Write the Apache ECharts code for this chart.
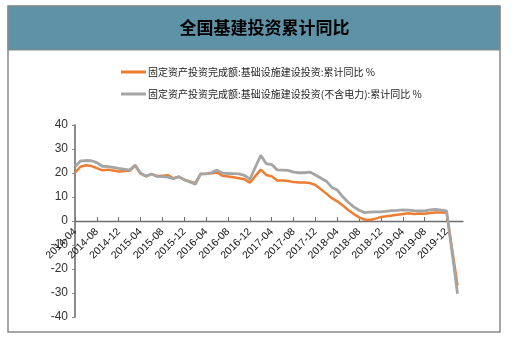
<!DOCTYPE html>
<html><head><meta charset="utf-8">
<script src="https://cdn.jsdelivr.net/npm/echarts@6/dist/echarts.min.js"></script>
<style>html,body{margin:0;padding:0;background:#fff}#c{width:529px;height:341px}</style>
</head><body><div id="c"></div>
<script>
const title = '全国基建投资累计同比';
const seriesNames = ['固定资产投资完成额:基础设施建设投资:累计同比 %', '固定资产投资完成额:基础设施建设投资(不含电力):累计同比 %'];
const dataMonths = [
 '2014-04','2014-05','2014-06','2014-07','2014-08','2014-09','2014-10','2014-11','2014-12',
 '2015-02','2015-03','2015-04','2015-05','2015-06','2015-07','2015-08','2015-09','2015-10','2015-11','2015-12',
 '2016-02','2016-03','2016-04','2016-05','2016-06','2016-07','2016-08','2016-09','2016-10','2016-11','2016-12',
 '2017-02','2017-03','2017-04','2017-05','2017-06','2017-07','2017-08','2017-09','2017-10','2017-11','2017-12',
 '2018-02','2018-03','2018-04','2018-05','2018-06','2018-07','2018-08','2018-09','2018-10','2018-11','2018-12',
 '2019-02','2019-03','2019-04','2019-05','2019-06','2019-07','2019-08','2019-09','2019-10','2019-11','2019-12',
 '2020-02'];
const infra = [
 20.2,22.6,23.2,22.9,22.0,21.1,21.4,21.0,20.6,
 20.9,23.1,19.7,18.6,19.6,18.7,18.9,19.1,17.8,18.5,17.2,
 15.8,19.6,19.7,19.9,20.2,18.8,18.5,18.2,17.8,17.4,16.0,
 21.4,19.2,18.6,16.9,16.9,16.7,16.2,16.0,16.0,15.8,15.0,
 11.4,9.5,8.2,6.5,4.6,2.9,1.5,0.6,0.4,1.0,1.7,
 2.3,2.6,2.9,3.2,2.9,3.1,3.0,3.3,3.5,3.5,3.4,
 -26.9];
const infraExPower = [
 22.6,25.0,25.2,25.1,24.3,22.8,22.7,22.3,21.9,
 21.2,23.3,20.0,18.7,19.5,18.6,18.5,18.3,17.6,18.4,17.2,
 15.3,19.6,19.6,20.2,21.2,19.9,19.8,19.7,19.6,19.0,17.4,
 27.4,23.9,23.5,21.3,21.2,21.1,20.4,20.1,20.1,20.4,19.2,
 16.6,14.0,12.9,10.1,7.8,5.9,4.5,3.5,3.7,3.8,3.8,
 4.3,4.4,4.6,4.5,4.3,4.2,4.2,4.6,4.8,4.5,4.2,
 -30.3];
const axisStart = '2014-04', axisEnd = '2020-03';
const yMin = -40, yMax = 40, yStep = 10;

// monthly category axis (January has no separate release)
const axisMonths = [];
{
  let [y, m] = axisStart.split('-').map(Number);
  const [ey, em] = axisEnd.split('-').map(Number);
  while (y < ey || (y === ey && m <= em)) {
    axisMonths.push(y + '-' + String(m).padStart(2, '0'));
    m++; if (m > 12) { m = 1; y++; }
  }
}
function align(vals) {
  const map = {};
  dataMonths.forEach((d, i) => map[d] = vals[i]);
  return axisMonths.map(d => (d in map ? map[d] : null));
}

const gridTop = 125, gridBottom = 24, H = 341;
const gridH = H - gridTop - gridBottom;
const zeroOffset = -gridH * (0 - yMin) / (yMax - yMin);

const chart = echarts.init(document.getElementById('c'), null, {renderer: 'canvas'});
chart.setOption({
  animation: false,
  backgroundColor: '#fff',
  graphic: [
    {type: 'rect', z: -10, shape: {x: 8, y: 6, width: 492, height: 326}, style: {fill: '#fff', stroke: '#8a8a8a', lineWidth: 1.5}},
    {type: 'rect', z: -9, shape: {x: 8, y: 6, width: 492, height: 44}, style: {fill: '#5e92a7', stroke: '#8a8a8a', lineWidth: 1}},
    {type: 'text', z: 10, left: 'center', top: 19, style: {text: title, font: 'bold 17px "Noto Sans CJK SC"', fill: '#000'}}
  ],
  legend: {
    orient: 'vertical', left: 116, top: 62, itemGap: 12,
    itemWidth: 25, itemHeight: 3, icon: 'rect',
    textStyle: {fontSize: 10, color: '#222', fontFamily: '"Noto Sans CJK SC"', padding: [0, 0, 0, -3]},
    data: seriesNames
  },
  grid: {left: 75, right: 66, top: gridTop, bottom: gridBottom, containLabel: false, outerBoundsMode: 'none'},
  xAxis: {
    type: 'category', boundaryGap: false, data: axisMonths, offset: zeroOffset,
    axisLine: {onZero: false, lineStyle: {color: '#6e6e6e', width: 1.3}},
    axisTick: {show: true, inside: true, interval: 3, length: 4, lineStyle: {color: '#6e6e6e'}},
    axisLabel: {interval: 3, rotate: 45, margin: 9, fontSize: 10.5, color: '#111', fontFamily: '"Liberation Sans", Arial'}
  },
  yAxis: {
    type: 'value', min: yMin, max: yMax, interval: yStep,
    axisLine: {show: true, lineStyle: {color: '#8c8c8c', width: 2}},
    axisTick: {show: true, length: 3, lineStyle: {color: '#8c8c8c'}},
    axisLabel: {fontSize: 12, color: '#333', margin: 7, fontFamily: '"Liberation Sans", Arial'},
    splitLine: {show: false}
  },
  series: [
    {name: seriesNames[0], type: 'line', data: align(infra), connectNulls: true, showSymbol: false, symbol: 'none',
     lineStyle: {color: '#ed7d31', width: 2.5}, itemStyle: {color: '#ed7d31'}},
    {name: seriesNames[1], type: 'line', data: align(infraExPower), connectNulls: true, showSymbol: false, symbol: 'none',
     lineStyle: {color: '#a5a5a5', width: 2.8}, itemStyle: {color: '#a5a5a5'}}
  ]
});
</script></body></html>
